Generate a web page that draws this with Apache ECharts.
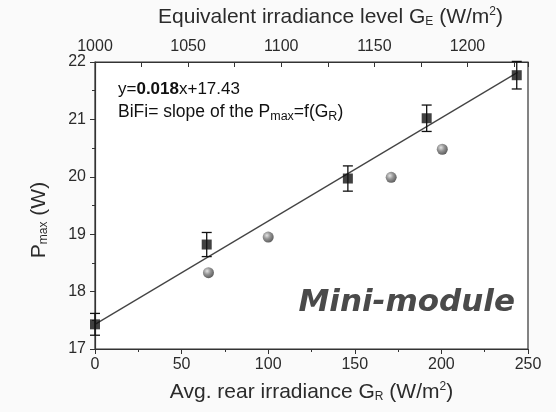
<!DOCTYPE html>
<html><head><meta charset="utf-8">
<script src="https://cdn.jsdelivr.net/npm/echarts@6/dist/echarts.min.js"></script>
<style>html,body{margin:0;padding:0;background:#fafafa}#c{width:556px;height:412px}</style>
</head><body><div id="c"></div>
<script>
// Data
const squareX = [0, 64.5, 146, 191.5, 243.5];
const squareY = [17.43, 18.82, 19.97, 21.02, 21.77];
const squareErr = [0.19, 0.21, 0.22, 0.23, 0.24];
const ballX = [65.5, 100, 171, 200.5];
const ballY = [18.33, 18.95, 19.99, 20.48];
const fitX = [0, 244];
const fitY = [17.43, 21.82];
const bottomRange = [0, 250];
const topRange = [1000, 1232.5];
const yRange = [17, 22];

const squares = squareX.map((x, i) => [x, squareY[i]]);
const errs = squareX.map((x, i) => [x, squareY[i] - squareErr[i], squareY[i] + squareErr[i]]);
const balls = ballX.map((x, i) => [x, ballY[i]]);
const fit = fitX.map((x, i) => [x, fitY[i]]);

const FONT = 'Liberation Sans, Arial, sans-serif';
const TXT = '#2b2b2b';
const AX = '#333';
const subStyle = { fontFamily: FONT, fontSize: 12, color: TXT, verticalAlign: 'bottom', padding: [9, 0, 0, 0] };
const supStyle = { fontFamily: FONT, fontSize: 12, color: TXT, verticalAlign: 'top', padding: [0, 0, 10, 0] };

const chart = echarts.init(document.getElementById('c'));
chart.setOption({
  backgroundColor: '#fafafa',
  animation: false,
  grid: { left: 95, right: 28, top: 62, bottom: 63, show: true, backgroundColor: '#fff', borderColor: AX, borderWidth: 1.2 },
  xAxis: [{
    type: 'value', position: 'bottom', min: bottomRange[0], max: bottomRange[1], interval: 50,
    axisLine: { show: true, onZero: false, lineStyle: { color: AX, width: 1.2 } },
    axisTick: { show: true, inside: false, length: 5, lineStyle: { color: AX } },
    minorTick: { show: true, splitNumber: 2, length: 3, lineStyle: { color: AX } },
    splitLine: { show: false },
    axisLabel: { fontFamily: FONT, fontSize: 16, color: TXT, margin: 8 },
    name: 'Avg. rear irradiance G{sub|R} (W/m{sup|2})', nameLocation: 'middle', nameGap: 32,
    nameTextStyle: { fontFamily: FONT, fontSize: 21, color: TXT, verticalAlign: 'top',
      rich: { sub: subStyle, sup: supStyle } }
  }, {
    type: 'value', position: 'top', min: topRange[0], max: topRange[1], interval: 25,
    axisLine: { show: true, onZero: false, lineStyle: { color: AX, width: 1.2 } },
    axisTick: { show: true, inside: true, length: 5, lineStyle: { color: AX } },
    splitLine: { show: false },
    axisLabel: { fontFamily: FONT, fontSize: 16, color: TXT, margin: 7,
      formatter: v => (Math.abs(v % 50) < 1e-6 ? String(v) : '') },
    name: 'Equivalent irradiance level G{sub|E} (W/m{sup|2})', nameLocation: 'middle', nameGap: 34,
    nameTextStyle: { fontFamily: FONT, fontSize: 21, color: TXT, padding: [0, 0, 0, 38],
      rich: { sub: subStyle, sup: supStyle } }
  }],
  yAxis: [{
    type: 'value', min: yRange[0], max: yRange[1], interval: 1,
    axisLine: { show: true, onZero: false, lineStyle: { color: AX, width: 1.2 } },
    axisTick: { show: true, inside: false, length: 5, lineStyle: { color: AX } },
    minorTick: { show: true, splitNumber: 2, length: 3, lineStyle: { color: AX } },
    splitLine: { show: false },
    axisLabel: { fontFamily: FONT, fontSize: 16, color: TXT, margin: 9 },
    name: 'P{sub|max} (W)', nameLocation: 'middle', nameGap: 45, nameRotate: 90,
    nameTextStyle: { fontFamily: FONT, fontSize: 21, color: TXT, padding: [0, 29, 0, 0],
      rich: { sub: subStyle } }
  }],
  series: [{
    type: 'line', data: fit, xAxisIndex: 0, symbol: 'none',
    lineStyle: { color: '#444', width: 1.3 }, z: 2
  }, {
    type: 'scatter', data: balls, xAxisIndex: 0, symbol: 'circle', symbolSize: 11,
    itemStyle: { color: { type: 'radial', x: 0.38, y: 0.35, r: 0.7,
      colorStops: [{ offset: 0, color: '#dcdcdc' }, { offset: 0.45, color: '#7a7a7a' }, { offset: 1, color: '#2e2e2e' }] } },
    z: 3
  }, {
    type: 'custom', xAxisIndex: 0, data: errs, z: 4,
    renderItem: (params, api) => {
      const x = api.value(0);
      const lo = api.coord([x, api.value(1)]);
      const hi = api.coord([x, api.value(2)]);
      const w = 5;
      const st = { stroke: '#111', lineWidth: 1.3 };
      return { type: 'group', children: [
        { type: 'line', shape: { x1: hi[0], y1: hi[1], x2: lo[0], y2: lo[1] }, style: st },
        { type: 'line', shape: { x1: hi[0] - w, y1: hi[1], x2: hi[0] + w, y2: hi[1] }, style: st },
        { type: 'line', shape: { x1: lo[0] - w, y1: lo[1], x2: lo[0] + w, y2: lo[1] }, style: st }
      ] };
    }
  }, {
    type: 'scatter', data: squares, xAxisIndex: 0, symbol: 'rect', symbolSize: 10,
    itemStyle: { color: '#111' }, z: 5
  }],
  graphic: [{
    type: 'text', left: 118, top: 81,
    style: { text: 'y={b|0.018}x+17.43', fontFamily: FONT, fontSize: 17, fill: '#111',
      rich: { b: { fontFamily: FONT, fontSize: 17, fontWeight: 'bold', fill: '#111' } } }
  }, {
    type: 'text', left: 118, top: 103,
    style: { text: 'BiFi= slope of the P{s|max}=f(G{s|R})', fontFamily: FONT, fontSize: 17.5, fill: '#111',
      rich: { s: { fontFamily: FONT, fontSize: 12.5, fill: '#111', verticalAlign: 'bottom', padding: [9, 0, 0, 0] } } }
  }, {
    type: 'text', right: 41, top: 287,
    style: { text: 'Mini-module', fontFamily: 'DejaVu Sans', fontSize: 31, fontWeight: 'bold', fontStyle: 'italic', fill: '#4a4a4a' }
  }]
});
</script></body></html>
